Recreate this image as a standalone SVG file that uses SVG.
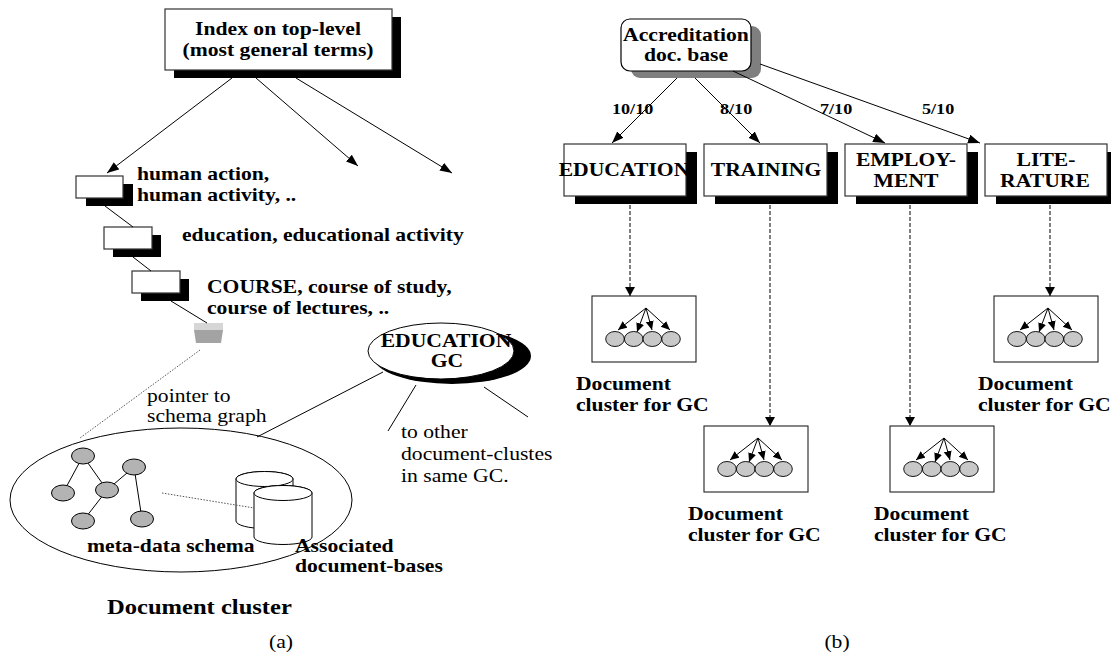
<svg xmlns="http://www.w3.org/2000/svg" width="1111" height="655" viewBox="0 0 1111 655">
<defs>
<style>
text { font-family: "Liberation Serif", "Times New Roman", serif; fill: #000; }
.b { font-weight: bold; font-size: 18.5px; }
.r { font-size: 18.5px; }
.n { font-weight: bold; font-size: 15.5px; }
.big { font-weight: bold; font-size: 21px; }
.c { text-anchor: middle; }
.box { fill: #fff; stroke: #333; stroke-width: 1.2; }
.cbox { fill: #fff; stroke: #222; stroke-width: 1.1; }
.shadow { fill: #000; }
.line { stroke: #000; stroke-width: 1; fill: none; }
.dash { stroke: #000; stroke-width: 1; stroke-dasharray: 4 2; fill: none; }
.dot { stroke: #555; stroke-width: 1; stroke-dasharray: 1.5 1.5; fill: none; }
.node { fill: #b3b3b3; stroke: #000; stroke-width: 1; }
.doc { fill: #c8c8c8; stroke: #000; stroke-width: 0.9; }
.cyl { fill: #fff; stroke: #000; stroke-width: 1; }
</style>
<marker id="ah" markerUnits="userSpaceOnUse" markerWidth="13" markerHeight="10" refX="12" refY="4.5" orient="auto"><path d="M0,0 L12,4.5 L0,9 z" fill="#000"/></marker>
<marker id="ahd" markerUnits="userSpaceOnUse" markerWidth="10" markerHeight="11" refX="9" refY="5" orient="auto"><path d="M0,0 L9,5 L0,10 z" fill="#000"/></marker>
<marker id="ahs" markerUnits="userSpaceOnUse" markerWidth="10" markerHeight="9" refX="9" refY="4" orient="auto"><path d="M0,0 L9,4 L0,8 z" fill="#000"/></marker>
<g id="tree">
  <ellipse class="doc" cx="23" cy="43" rx="9.3" ry="7.5"/>
  <ellipse class="doc" cx="41.7" cy="43" rx="9.3" ry="7.5"/>
  <ellipse class="doc" cx="60.3" cy="43" rx="9.3" ry="7.5"/>
  <ellipse class="doc" cx="79" cy="43" rx="9.3" ry="7.5"/>
  <line class="line" x1="54" y1="12" x2="26" y2="34" marker-end="url(#ahs)"/>
  <line class="line" x1="54" y1="12" x2="45" y2="36" marker-end="url(#ahs)"/>
  <line class="line" x1="54" y1="12" x2="60" y2="34" marker-end="url(#ahs)"/>
  <line class="line" x1="54" y1="12" x2="78" y2="34" marker-end="url(#ahs)"/>
</g>
</defs>

<rect width="1111" height="655" fill="#fff"/>

<!-- ===== Part (a) ===== -->
<g id="index-top">
  <rect class="shadow" x="174" y="17" width="227" height="61"/>
  <rect class="box" x="165" y="9" width="227" height="61"/>
  <text class="b c" transform="translate(278,35) scale(1.17 1)">Index on top-level</text>
  <text class="b c" transform="translate(278,56) scale(1.17 1)">(most general terms)</text>
</g>

<g id="term-human">
  <rect class="shadow" x="86" y="184" width="47" height="22"/>
  <rect class="box" x="76" y="176" width="47" height="22"/>
  <text class="b" transform="translate(137,180) scale(1.17 1)">human action,</text>
  <text class="b" transform="translate(137,201) scale(1.17 1)">human activity, ..</text>
</g>

<g id="term-education">
  <rect class="shadow" x="113" y="235" width="48" height="22"/>
  <rect class="box" x="104" y="227" width="48" height="22"/>
  <text class="b" transform="translate(182,241) scale(1.17 1)">education, educational activity</text>
</g>

<g id="term-course">
  <rect class="shadow" x="141" y="279" width="48" height="22"/>
  <rect class="box" x="132" y="271" width="48" height="22"/>
  <text class="b" transform="translate(207,293) scale(1.17 1)">COURSE, course of study,</text>
  <text class="b" transform="translate(207,314) scale(1.17 1)">course of lectures, ..</text>
</g>

<g id="pointer">
  <rect x="194" y="323" width="29" height="7" fill="#d6d6d6"/>
  <polygon points="194,330 223,330 221,343 196,343" fill="#a3a3a3"/>
</g>

<g id="document-cluster">
  <ellipse cx="181" cy="500" rx="171" ry="72" fill="none" stroke="#000" stroke-width="1"/>
  <g class="line">
    <line x1="83" y1="456" x2="63" y2="493"/>
    <line x1="83" y1="456" x2="107" y2="490"/>
    <line x1="107" y1="490" x2="134" y2="467"/>
    <line x1="107" y1="490" x2="83" y2="521"/>
    <line x1="134" y1="467" x2="142" y2="519"/>
  </g>
  <ellipse class="node" cx="83" cy="456" rx="11.5" ry="8"/>
  <ellipse class="node" cx="63" cy="493" rx="11.5" ry="8"/>
  <ellipse class="node" cx="107" cy="490" rx="11.5" ry="8"/>
  <ellipse class="node" cx="134" cy="467" rx="11.5" ry="8"/>
  <ellipse class="node" cx="83" cy="521" rx="11.5" ry="8"/>
  <ellipse class="node" cx="142" cy="519" rx="11.5" ry="8"/>
  <path class="cyl" d="M236,479 L236,521 A28.5,7.5 0 0 0 293,521 L293,479 A28.5,7.5 0 0 0 236,479 z"/>
  <ellipse class="cyl" cx="264.5" cy="479" rx="28.5" ry="7.5"/>
  <line class="dot" x1="162" y1="493" x2="254" y2="508"/>
  <path class="cyl" d="M254,493 L254,537 A29,7.5 0 0 0 312,537 L312,493 A29,7.5 0 0 0 254,493 z"/>
  <ellipse class="cyl" cx="283" cy="493" rx="29" ry="7.5"/>
  <text class="b" transform="translate(87,552) scale(1.17 1)">meta-data schema</text>
  <text class="b" transform="translate(295,552) scale(1.17 1)">Associated</text>
  <text class="b" transform="translate(295,572) scale(1.17 1)">document-bases</text>
  <text class="big" transform="translate(107,614) scale(1.17 1)">Document cluster</text>
</g>

<g id="education-gc">
  <ellipse cx="452" cy="356" rx="79" ry="28" fill="#000"/>
  <ellipse cx="441" cy="351" rx="73" ry="28" fill="#fff" stroke="#000" stroke-width="1"/>
  <text class="b c" transform="translate(446,347) scale(1.17 1)">EDUCATION</text>
  <text class="b c" transform="translate(447,367) scale(1.17 1)">GC</text>
</g>

<g id="connectors-a">
  <line class="line" x1="232" y1="78" x2="107" y2="173" marker-end="url(#ah)"/>
  <line class="line" x1="256" y1="78" x2="358" y2="166" marker-end="url(#ah)"/>
  <line class="line" x1="296" y1="78" x2="452" y2="173" marker-end="url(#ah)"/>
  <line class="line" x1="105" y1="206" x2="133" y2="227"/>
  <line class="line" x1="133" y1="257" x2="151" y2="271"/>
  <line class="line" x1="171" y1="301" x2="207" y2="323"/>
  <line class="dot" x1="200" y1="350" x2="80" y2="438"/>
  <line class="line" x1="383" y1="372" x2="257" y2="437"/>
  <line class="line" x1="416" y1="385" x2="388" y2="431"/>
  <line class="line" x1="484" y1="387" x2="528" y2="417"/>
  <text class="r" transform="translate(147,402) scale(1.17 1)">pointer to</text>
  <text class="r" transform="translate(147,422) scale(1.17 1)">schema graph</text>
  <text class="r" transform="translate(401,438) scale(1.17 1)">to other</text>
  <text class="r" transform="translate(401,460) scale(1.17 1)">document-clustes</text>
  <text class="r" transform="translate(401,482) scale(1.17 1)">in same GC.</text>
</g>

<text class="r c" transform="translate(281,648) scale(1.17 1)">(a)</text>

<!-- ===== Part (b) ===== -->
<g id="accreditation">
  <rect x="631" y="26" width="130" height="52" rx="9" fill="#7f7f7f"/>
  <rect x="621" y="19" width="130" height="52" rx="9" fill="#fff" stroke="#000" stroke-width="1.2"/>
  <text class="b c" transform="translate(686,41) scale(1.17 1)">Accreditation</text>
  <text class="b c" transform="translate(686,61) scale(1.17 1)">doc. base</text>
</g>

<g id="cat-education">
  <rect class="shadow" x="575" y="152" width="122" height="52"/>
  <rect class="box" x="564" y="144" width="122" height="52"/>
  <text class="b c" transform="translate(624,176) scale(1.17 1)">EDUCATION</text>
</g>
<g id="cat-training">
  <rect class="shadow" x="715" y="152" width="123" height="52"/>
  <rect class="box" x="704" y="144" width="123" height="52"/>
  <text class="b c" transform="translate(766,176) scale(1.17 1)">TRAINING</text>
</g>
<g id="cat-employment">
  <rect class="shadow" x="856" y="152" width="122" height="52"/>
  <rect class="box" x="845" y="144" width="122" height="52"/>
  <text class="b c" transform="translate(906,166) scale(1.17 1)">EMPLOY-</text>
  <text class="b c" transform="translate(906,187) scale(1.17 1)">MENT</text>
</g>
<g id="cat-literature">
  <rect class="shadow" x="996" y="152" width="122" height="52"/>
  <rect class="box" x="985" y="144" width="122" height="52"/>
  <text class="b c" transform="translate(1046,166) scale(1.17 1)">LITE-</text>
  <text class="b c" transform="translate(1045,187) scale(1.17 1)">RATURE</text>
</g>

<g id="cluster-education">
  <rect class="cbox" x="592" y="296" width="104" height="66"/>
  <use href="#tree" x="592" y="296"/>
  <text class="b" transform="translate(576,390) scale(1.17 1)">Document</text>
  <text class="b" transform="translate(576,411) scale(1.17 1)">cluster for GC</text>
</g>
<g id="cluster-training">
  <rect class="cbox" x="704" y="426" width="104" height="66"/>
  <use href="#tree" x="704" y="426"/>
  <text class="b" transform="translate(688,520) scale(1.17 1)">Document</text>
  <text class="b" transform="translate(688,541) scale(1.17 1)">cluster for GC</text>
</g>
<g id="cluster-employment">
  <rect class="cbox" x="890" y="426" width="104" height="66"/>
  <use href="#tree" x="890" y="426"/>
  <text class="b" transform="translate(874,520) scale(1.17 1)">Document</text>
  <text class="b" transform="translate(874,541) scale(1.17 1)">cluster for GC</text>
</g>
<g id="cluster-literature">
  <rect class="cbox" x="994" y="296" width="104" height="66"/>
  <use href="#tree" x="994" y="296"/>
  <text class="b" transform="translate(978,390) scale(1.17 1)">Document</text>
  <text class="b" transform="translate(978,411) scale(1.17 1)">cluster for GC</text>
</g>

<g id="connectors-b">
  <line class="line" x1="677" y1="78" x2="612" y2="143" marker-end="url(#ah)"/>
  <line class="line" x1="695" y1="78" x2="760" y2="143" marker-end="url(#ah)"/>
  <line class="line" x1="733" y1="71" x2="885" y2="143" marker-end="url(#ah)"/>
  <line class="line" x1="760" y1="64" x2="980" y2="143" marker-end="url(#ah)"/>
  <text class="n" transform="translate(612,114) scale(1.17 1)">10/10</text>
  <text class="n" transform="translate(720,114) scale(1.17 1)">8/10</text>
  <text class="n" transform="translate(820,114) scale(1.17 1)">7/10</text>
  <text class="n" transform="translate(922,114) scale(1.17 1)">5/10</text>
  <line class="dash" x1="630" y1="205" x2="630" y2="296" marker-end="url(#ahd)"/>
  <line class="dash" x1="770" y1="205" x2="770" y2="426" marker-end="url(#ahd)"/>
  <line class="dash" x1="910" y1="205" x2="910" y2="426" marker-end="url(#ahd)"/>
  <line class="dash" x1="1050" y1="205" x2="1050" y2="296" marker-end="url(#ahd)"/>
</g>

<text class="r c" transform="translate(837,648) scale(1.17 1)">(b)</text>
</svg>
